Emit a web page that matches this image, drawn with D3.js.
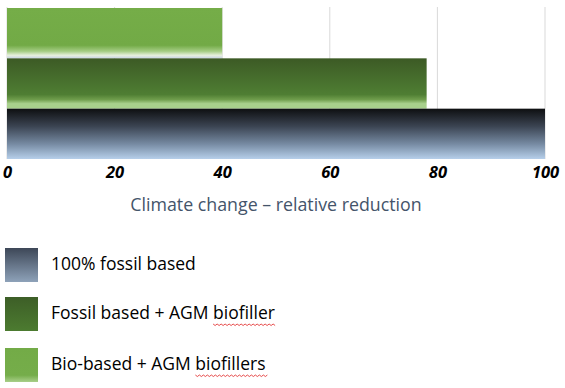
<!DOCTYPE html>
<html>
<head>
<meta charset="utf-8">
<script src="https://cdn.jsdelivr.net/npm/d3@7"></script>
<style>
  body { margin: 0; background: #fff; }
  text { font-family: "Open Sans", "Liberation Sans", sans-serif; }
</style>
</head>
<body>
<div id="vis"></div>
<script>
// chart data
var categories = ["Bio-based + AGM biofillers", "Fossil based + AGM biofiller", "100% fossil based"]
var values = [40, 78, 100]
var ticks = [0, 20, 40, 60, 80, 100]
var legendOrder = ["100% fossil based", "Fossil based + AGM biofiller", "Bio-based + AGM biofillers"]
var axisTitle = "Climate change \u2013 relative reduction"

var width = 565
var height = 388

var svg = d3.select('#vis').append('svg')
  .attr('width', width)
  .attr('height', height)

var defs = svg.append('defs')

// gradient fills, one for each series
var grads = {
  "100% fossil based": [[0, "#0e0f11"], [0.35, "#3b4452"], [0.7, "#768aa2"], [1, "#b6cfea"]],
  "Fossil based + AGM biofiller": [[0, "#3c5a25"], [0.72, "#4f7e33"], [0.82, "#6f9d4c"], [0.9, "#a8d08c"], [1, "#a8d08c"]],
  "Bio-based + AGM biofillers": [[0, "#75ad48"], [0.74, "#72aa46"], [0.86, "#a5cd84"], [0.94, "#e6f0dc"], [1, "#c8d3e6"]]
}
var swatchGrads = {
  "100% fossil based": [[0, "#3d4757"], [1, "#8ea2b9"]],
  "Fossil based + AGM biofiller": [[0, "#3d5e27"], [1, "#4c7b30"]],
  "Bio-based + AGM biofillers": [[0, "#73ab47"], [0.8, "#75ad4a"], [1, "#a9cf8a"]]
}

function makeGrad(id, stops){
  var g = defs.append('linearGradient').attr('id', id)
    .attr('x1', 0).attr('y1', 0).attr('x2', 0).attr('y2', 1)
  stops.forEach(s => {
    g.append('stop').attr('offset', s[0]).attr('stop-color', s[1])
  })
}
categories.forEach((c, i) => {
  makeGrad('g' + i, grads[c])
  makeGrad('s' + i, swatchGrads[c])
})

var x = d3.scaleLinear().domain([0, 100]).range([7, 545])
var y = d3.scaleBand().domain(categories).range([8, 159]).padding(0)

// gridlines
svg.selectAll('line.grid')
  .data(ticks)
  .enter()
  .append('line')
  .attr('class', 'grid')
  .attr('x1', d => x(d)).attr('x2', d => x(d))
  .attr('y1', 7).attr('y2', 159)
  .attr('stroke', '#d9d9d9')
  .attr('stroke-width', 1)

// bars
svg.selectAll('rect.bar')
  .data(categories)
  .enter()
  .append('rect')
  .attr('class', 'bar')
  .attr('x', x(0))
  .attr('y', d => y(d))
  .attr('width', (d, i) => x(values[i]) - x(0))
  .attr('height', y.bandwidth())
  .attr('fill', (d, i) => 'url(#g' + i + ')')

// axis
var axis = d3.axisBottom(x).tickValues(ticks).tickSize(0).tickPadding(0)
var gx = svg.append('g').attr('transform', 'translate(0,166)').call(axis)
gx.select('.domain').remove()
gx.selectAll('text')
  .attr('dy', '0.75em')
  .style('font-family', '"Open Sans", sans-serif')
  .style('font-size', '16.5px')
  .style('font-weight', 'bold')
  .style('font-style', 'italic')
  .attr('fill', '#000')

svg.append('text')
  .attr('x', 276)
  .attr('y', 211)
  .attr('text-anchor', 'middle')
  .style('font-size', '17.8px')
  .attr('fill', '#44546a')
  .text(axisTitle)

// legend
var legY = [248, 297, 348]
var leg = svg.selectAll('g.leg')
  .data(legendOrder)
  .enter()
  .append('g')
  .attr('class', 'leg')
  .attr('transform', (d, i) => 'translate(5,' + legY[i] + ')')

leg.append('rect')
  .attr('width', 33).attr('height', 34)
  .attr('fill', d => 'url(#s' + categories.indexOf(d) + ')')

leg.append('text')
  .attr('x', 46)
  .attr('y', 22)
  .style('font-size', '17.5px')
  .attr('fill', '#000')
  .text(d => d)

// spell check squiggles under "biofiller(s)"
leg.each(function(d){
  var m = d.match(/biofillers?/)
  if(!m) return
  var t = d3.select(this).select('text').node()
  var start = t.getSubStringLength(0, m.index)
  var len = t.getSubStringLength(m.index, m[0].length)
  var x0 = 46 + start, yy = 27
  var p = 'M' + x0 + ',' + yy
  for (var k = 0; x0 + k * 2 < x0 + len; k++){
    p += ' L' + (x0 + (k + 1) * 2) + ',' + (yy + (k % 2 ? 0 : 1.5))
  }
  d3.select(this).append('path')
    .attr('d', p)
    .attr('fill', 'none')
    .attr('stroke', '#e02020')
    .attr('stroke-width', 0.8)
})
</script>
</body>
</html>
